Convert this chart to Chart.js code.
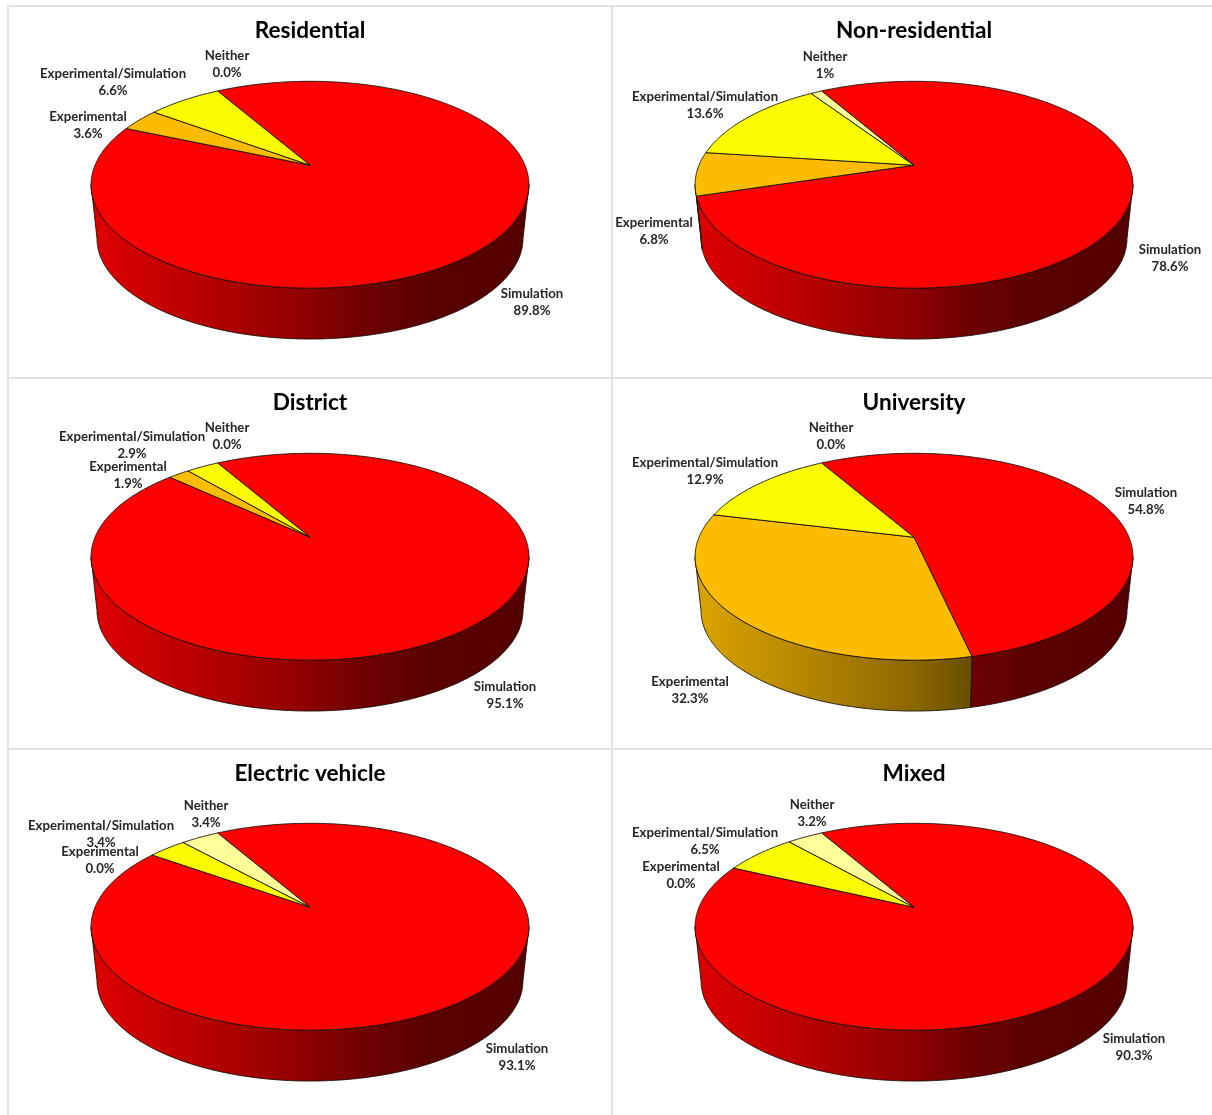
<!DOCTYPE html>
<html>
<head>
<meta charset="utf-8">
<title>Validation method by building type</title>
<script src="https://cdn.jsdelivr.net/npm/chart.js@4"></script>
<style>
  html, body { margin: 0; padding: 0; background: #fff; overflow: hidden; }
  body { position: relative; width: 1212px; height: 1115px; }
  canvas { position: absolute; }
  .rule { position: absolute; background: #e2e2e2; }
</style>
</head>
<body>
<div class="rule" style="left:7px;top:5px;width:1205px;height:2px"></div>
<div class="rule" style="left:7px;top:377px;width:1205px;height:2px"></div>
<div class="rule" style="left:7px;top:748px;width:1205px;height:2px"></div>
<div class="rule" style="left:7px;top:5px;width:2px;height:1110px"></div>
<div class="rule" style="left:611px;top:5px;width:2px;height:1110px"></div>

<script>
const categories = ['Simulation', 'Experimental', 'Experimental/Simulation', 'Neither'];
const residential = [89.8, 3.6, 6.6, 0.0];
const nonResidential = [78.6, 6.8, 13.6, 1];
const district = [95.1, 1.9, 2.9, 0.0];
const university = [54.8, 32.3, 12.9, 0.0];
const electricVehicle = [93.1, 0.0, 3.4, 3.4];
const mixed = [90.3, 0.0, 6.5, 3.2];

const sliceColors = [[255, 0, 0], [252, 188, 0], [252, 252, 0], [255, 255, 153]];

// label centres are page coordinates, same order as categories
const panels = [
  { id: 'residential', title: 'Residential', values: residential, left: 9, top: 7, width: 602, height: 369,
    labelAt: [[532, 302], [88, 125], [113, 82], [227, 64]] },
  { id: 'nonResidential', title: 'Non-residential', values: nonResidential, left: 613, top: 7, width: 599, height: 369,
    labelAt: [[1170, 258], [654, 231], [705, 105], [825, 65]] },
  { id: 'district', title: 'District', values: district, left: 9, top: 379, width: 602, height: 369,
    labelAt: [[505, 695], [128, 475], [132, 445], [227, 436]] },
  { id: 'university', title: 'University', values: university, left: 613, top: 379, width: 599, height: 369,
    labelAt: [[1146, 501], [690, 690], [705, 471], [831, 436]] },
  { id: 'electricVehicle', title: 'Electric vehicle', values: electricVehicle, left: 9, top: 750, width: 602, height: 365,
    labelAt: [[517, 1057], [100, 860], [101, 834], [206, 814]] },
  { id: 'mixed', title: 'Mixed', values: mixed, left: 613, top: 750, width: 599, height: 365,
    labelAt: [[1134, 1047], [681, 875], [705, 841], [812, 813]] }
];

// tilt and perspective of the disc
const FLATTEN = 0.464;
const CAMERA = 5.31;
const WALL_DROP = 0.252;
const WALL_SHRINK = 0.973;
const FRONT_FROM = Math.asin(1 / CAMERA);

function project(arc, angle, onBottom) {
  const cosA = Math.cos(angle), sinA = Math.sin(angle);
  const w = CAMERA / (CAMERA - sinA);
  const dx = arc.outerRadius * cosA * w;
  const dy = arc.outerRadius * FLATTEN * sinA * w;
  if (onBottom) {
    return [arc.x + dx * WALL_SHRINK, arc.y + arc.outerRadius * WALL_DROP + dy * WALL_SHRINK];
  }
  return [arc.x + dx, arc.y + dy];
}

function traceEdge(ctx, arc, from, to, onBottom, first) {
  const steps = Math.max(2, Math.ceil(Math.abs(to - from) / 0.01));
  for (let i = 0; i <= steps; i++) {
    const p = project(arc, from + (to - from) * i / steps, onBottom);
    if (i === 0 && first) ctx.moveTo(p[0], p[1]);
    else ctx.lineTo(p[0], p[1]);
  }
}

// darkening runs left to right across the side wall
function wallGradient(ctx, arc, rgb) {
  const half = arc.outerRadius * 1.02;
  const g = ctx.createLinearGradient(arc.x - half, 0, arc.x + half, 0);
  const stops = [[0, 0.87], [0.25, 0.72], [0.5, 0.55], [0.62, 0.43], [0.78, 0.35], [1, 0.33]];
  stops.forEach(([at, k]) => {
    g.addColorStop(at, `rgb(${rgb[0] * k}, ${rgb[1] * k}, ${rgb[2] * k})`);
  });
  return g;
}

function frontSpans(arc) {
  const spans = [];
  for (const turn of [0, Math.PI * 2]) {
    const from = Math.max(arc.startAngle, FRONT_FROM + turn);
    const to = Math.min(arc.endAngle, Math.PI - FRONT_FROM + turn);
    if (to > from) spans.push([from, to]);
  }
  return spans;
}

const pie3d = {
  id: 'pie3d',
  beforeDatasetDraw(chart, args) {
    const ctx = chart.ctx;
    const arcs = args.meta.data;
    ctx.save();
    ctx.lineJoin = 'round';
    ctx.lineWidth = 0.9;
    ctx.strokeStyle = '#1a1008';

    // side wall first, the top face covers its upper edge
    arcs.forEach((arc, i) => {
      if (arc.endAngle - arc.startAngle <= 0) return;
      frontSpans(arc).forEach(([from, to]) => {
        ctx.beginPath();
        traceEdge(ctx, arc, from, to, false, true);
        traceEdge(ctx, arc, to, from, true, false);
        ctx.closePath();
        ctx.fillStyle = wallGradient(ctx, arc, sliceColors[i]);
        ctx.fill();
        ctx.stroke();
      });
    });

    arcs.forEach((arc, i) => {
      if (arc.endAngle - arc.startAngle <= 0) return;
      ctx.beginPath();
      ctx.moveTo(arc.x, arc.y);
      traceEdge(ctx, arc, arc.startAngle, arc.endAngle, false, false);
      ctx.closePath();
      const rgb = sliceColors[i];
      ctx.fillStyle = `rgb(${rgb[0]}, ${rgb[1]}, ${rgb[2]})`;
      ctx.fill();
      ctx.stroke();
    });
    ctx.restore();
    return false;
  },
  afterDraw(chart, args, opts) {
    const ctx = chart.ctx;
    const canvas = chart.canvas;
    const x0 = parseFloat(canvas.style.left), y0 = parseFloat(canvas.style.top);
    ctx.save();
    ctx.font = 'bold 13.2px Lato';
    ctx.fillStyle = '#262626';
    ctx.textAlign = 'center';
    ctx.textBaseline = 'middle';
    opts.labelAt.forEach((at, i) => {
      const x = at[0] - x0, y = at[1] - y0;
      ctx.fillText(categories[i], x, y - 8.5);
      ctx.fillText(percentText(opts.values[i]), x, y + 8.5);
    });
    ctx.restore();
  }
};

function percentText(v) {
  return v === 1 ? '1%' : v.toFixed(1) + '%';
}

panels.forEach((panel) => {
  const canvas = document.createElement('canvas');
  canvas.id = panel.id;
  canvas.width = panel.width;
  canvas.height = panel.height;
  canvas.style.left = panel.left + 'px';
  canvas.style.top = panel.top + 'px';
  canvas.style.width = panel.width + 'px';
  canvas.style.height = panel.height + 'px';
  document.body.appendChild(canvas);

  new Chart(canvas, {
    type: 'pie',
    data: {
      labels: categories,
      datasets: [{
        data: panel.values,
        backgroundColor: sliceColors.map((c) => `rgb(${c.join(',')})`),
        borderWidth: 0
      }]
    },
    options: {
      responsive: false,
      animation: false,
      rotation: 330,
      radius: 215,
      layout: {
        padding: { left: panel.width === 599 ? 3 : 0, right: 0, top: 0, bottom: panel.height === 369 ? 93 : 91 }
      },
      plugins: {
        legend: { display: false },
        tooltip: { enabled: false },
        title: {
          display: true,
          text: panel.title,
          color: '#000',
          font: { family: 'Lato', size: 22.6, weight: 'bold' },
          padding: { top: 10, bottom: 3.4 }
        },
        pie3d: { labelAt: panel.labelAt, values: panel.values }
      }
    },
    plugins: [pie3d]
  });
});
</script>
</body>
</html>
